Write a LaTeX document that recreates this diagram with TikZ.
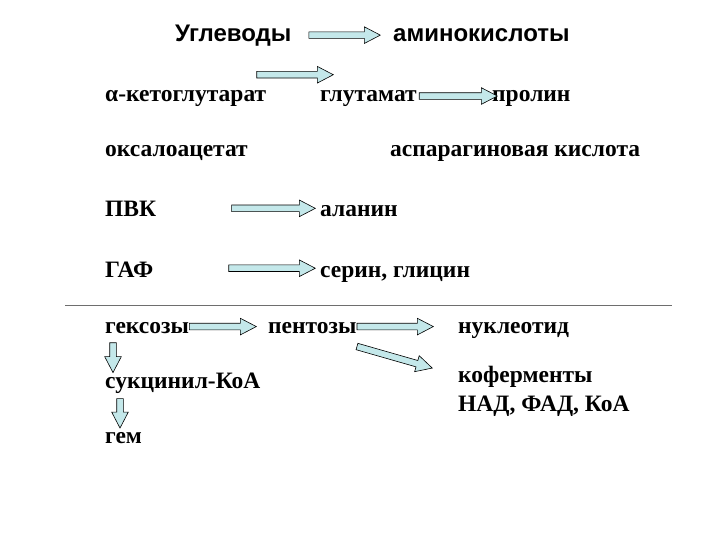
\documentclass[tikz,border=0pt]{standalone}
\usepackage{fontspec}
\setmainfont{Liberation Serif}
\setsansfont{Liberation Sans}
\usetikzlibrary{shapes.arrows, calc}

\definecolor{arrowfill}{RGB}{196,232,234}
\definecolor{rulegray}{RGB}{110,110,110}

\tikzset{
    term/.style={anchor=base west, inner sep=0pt, font=\fontsize{23.5}{29}\selectfont\bfseries},
    headterm/.style={anchor=base west, inner sep=0pt, font=\sffamily\fontsize{24}{28}\selectfont\bfseries},
    fatarrow/.style={single arrow, draw=black, line width=0.6pt, fill=arrowfill, inner sep=3pt,
        single arrow head extend=5pt, single arrow tip angle=55, minimum height=#1, anchor=tail},
}

% block arrow from point #1 to point #2
\newcommand{\fatarrow}[2]{%
    \path let \p1=#1, \p2=#2,
        \n1={atan2(\y2-\y1,\x2-\x1)}, \n2={veclen(\x2-\x1,\y2-\y1)} in
        node[fatarrow=\n2, rotate=\n1] at (\p1) {};}

\begin{document}
\begin{tikzpicture}[x=1pt, y=-1pt]
    \useasboundingbox (0,0) rectangle (720,540);

    % top row
    \node (carbs) [headterm] at (175,42) {Углеводы};
    \node (amino) [headterm] at (393,42) {аминокислоты};

    % amino acids
    \node (keto) [term] at (105,102) {α-кетоглутарат};
    \node (glut) [term] at (320,102) {глутамат};
    \node (prolin) [term] at (492,102) {пролин};
    \node (oxalo) [term] at (105,157) {оксалоацетат};
    \node (asp) [term] at (390,157) {аспарагиновая кислота};
    \node (pvk) [term] at (105,217) {ПВК};
    \node (ala) [term] at (320,217) {аланин};
    \node (gaf) [term] at (105,277) {ГАФ};
    \node (ser) [term] at (320,277) {серин, глицин};

    \draw [rulegray, line width=0.8pt] (65,305) -- (672,305);

    % lower part
    \node (hex) [term] at (105,333) {гексозы};
    \node (pent) [term] at (268,333) {пентозы};
    \node (nucl) [term] at (458,333) {нуклеотид};
    \node (succ) [term] at (105,388) {сукцинил-КоА};
    \node (coferm) [term, align=left, anchor=north west] at (458,366) {коферменты\\НАД, ФАД, КоА};
    \node (heme) [term] at (105,443) {гем};

    \fatarrow{($(carbs.east)+(17,-1)$)}{($(carbs.east -| amino.west)+(-13,-1)$)}
    \fatarrow{($(keto.north east)+(-10,-16)$)}{($(keto.north east -| glut.west)+(13,-16)$)}
    \fatarrow{($(glut.east)+(2,-3)$)}{($(glut.east -| prolin.west)+(5,-3)$)}
    \fatarrow{($(pvk.east)+(75,-1)$)}{($(pvk.east -| ala.west)+(-5,-1)$)}
    \fatarrow{($(gaf.east)+(75,-1)$)}{($(gaf.east -| ser.west)+(-5,-1)$)}
    \fatarrow{($(hex.east)+(0,-1)$)}{($(hex.east -| pent.west)+(-12,-1)$)}
    \fatarrow{($(pent.east)+(0,-1)$)}{($(pent.east -| nucl.west)+(-25,-1)$)}
    \fatarrow{($(pent.south east)+(0,13)$)}{($(coferm.north west)+(-26,2)$)}
    \fatarrow{($(hex.south west)+(8,9)$)}{($(succ.north west)+(8,0)$)}
    \fatarrow{($(succ.south west)+(15,5)$)}{($(heme.north west)+(15,-4)$)}
\end{tikzpicture}
\end{document}
